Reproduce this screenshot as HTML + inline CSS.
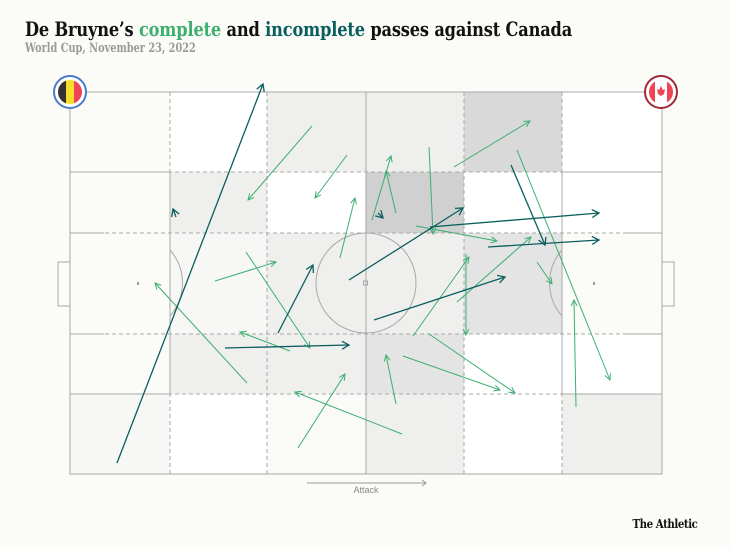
<!DOCTYPE html>
<html><head><meta charset="utf-8"><style>
body{margin:0;background:#fbfbf8;width:730px;height:548px;overflow:hidden;position:relative;font-family:"Liberation Serif",serif}
.t{position:absolute;left:25px;top:17px;font-size:20px;font-weight:bold;color:#111;letter-spacing:-0.2px;font-family:"DejaVu Serif","Liberation Serif",serif;transform:scaleX(0.81);transform-origin:left;white-space:nowrap}
.s{position:absolute;left:25px;top:41px;font-size:13px;font-weight:bold;color:#999;font-family:"DejaVu Serif",serif;transform:scaleX(0.75);transform-origin:left;white-space:nowrap}
.b{position:absolute;right:33px;top:517px;font-size:12px;font-weight:bold;color:#111;font-family:"DejaVu Serif",serif;letter-spacing:-0.5px;transform:scaleX(0.85);transform-origin:right}
</style></head><body>
<div class="t">De Bruyne’s <span style="color:#3daf6f">complete</span> and <span style="color:#0b5e5e">incomplete</span> passes against Canada</div>
<div class="s">World Cup, November 23, 2022</div>
<svg width="730" height="548" style="position:absolute;left:0;top:0">
<defs>
<marker id="g" markerWidth="8" markerHeight="8" refX="7" refY="4" orient="auto" markerUnits="userSpaceOnUse"><path d="M1,1 L7,4 L1,7" fill="none" stroke="#3daf6f" stroke-width="1"/></marker>
<marker id="d" markerWidth="10" markerHeight="10" refX="8" refY="5" orient="auto" markerUnits="userSpaceOnUse"><path d="M1,1 L8,5 L1,9" fill="none" stroke="#0b5e5e" stroke-width="1.3"/></marker>
</defs>
<rect x="70" y="92" width="592" height="382" fill="#fbfbf8"/>
<g>
<rect x="267" y="92" width="99" height="80" fill="#efefed"/>
<rect x="366" y="92" width="98" height="80" fill="#efefed"/>
<rect x="464" y="92" width="98" height="80" fill="#d9d9d9"/>
<rect x="170" y="92" width="97" height="80" fill="#fff"/>
<rect x="562" y="92" width="100" height="80" fill="#fff"/>
<rect x="170" y="172" width="97" height="61" fill="#efefed"/>
<rect x="267" y="172" width="99" height="61" fill="#fff"/>
<rect x="366" y="172" width="98" height="61" fill="#d0d0d0"/>
<rect x="464" y="172" width="98" height="61" fill="#fff"/>
<rect x="562" y="172" width="100" height="61" fill="#fff"/>
<rect x="170" y="233" width="97" height="101" fill="#f7f7f5"/>
<rect x="267" y="233" width="99" height="101" fill="#efefed"/>
<rect x="366" y="233" width="98" height="101" fill="#efefed"/>
<rect x="464" y="233" width="98" height="101" fill="#e4e4e4"/>
<rect x="170" y="334" width="97" height="60" fill="#efefed"/>
<rect x="267" y="334" width="99" height="60" fill="#efefed"/>
<rect x="366" y="334" width="98" height="60" fill="#e4e4e4"/>
<rect x="464" y="334" width="98" height="60" fill="#fff"/>
<rect x="562" y="334" width="100" height="60" fill="#fff"/>
<rect x="70" y="394" width="100" height="80" fill="#f7f7f5"/>
<rect x="170" y="394" width="97" height="80" fill="#fff"/>
<rect x="267" y="394" width="99" height="80" fill="#fafaf8"/>
<rect x="366" y="394" width="98" height="80" fill="#efefed"/>
<rect x="464" y="394" width="98" height="80" fill="#fff"/>
<rect x="562" y="394" width="100" height="80" fill="#efefed"/>
</g>
<g stroke="#aaa" stroke-width="1" fill="none" stroke-dasharray="4,3">
<line x1="170" y1="92" x2="170" y2="474"/><line x1="267" y1="92" x2="267" y2="474"/><line x1="464" y1="92" x2="464" y2="474"/><line x1="562" y1="92" x2="562" y2="474"/>
<line x1="70" y1="172" x2="662" y2="172"/><line x1="70" y1="233" x2="662" y2="233"/><line x1="70" y1="334" x2="662" y2="334"/><line x1="70" y1="394" x2="662" y2="394"/>
</g>
<g stroke="#a8a8a8" stroke-width="1" fill="none">
<rect x="70" y="92" width="592" height="382"/>
<line x1="366" y1="92" x2="366" y2="474"/>
<circle cx="366" cy="283" r="50"/>
<rect x="363.5" y="281" width="4" height="4"/>
<path d="M170,172 H70 V394 H170 Z"/><path d="M104,233 H70 V334 H104"/><path d="M70,262 H58 V306 H70"/>
<path d="M562,172 H662 V394 H562 Z"/><path d="M627,233 H662 V334 H627"/><path d="M662,262 H674 V306 H662"/>
<path d="M170,250 A50 50 0 0 1 170,316"/><path d="M562,250 A50 50 0 0 0 562,316"/>
</g>
<rect x="137" y="282" width="2" height="3" fill="#999"/><rect x="593" y="282" width="2" height="3" fill="#999"/>
<g stroke="#3daf6f" stroke-width="1" fill="none" marker-end="url(#g)">
<line x1="312" y1="126" x2="248" y2="200"/><line x1="347" y1="155" x2="315" y2="198"/>
<line x1="215" y1="281" x2="276" y2="262"/><line x1="247" y1="383" x2="155" y2="283"/>
<line x1="246" y1="252" x2="310" y2="348"/><line x1="290" y1="351" x2="240" y2="332"/>
<line x1="340" y1="258" x2="355" y2="198"/><line x1="372" y1="220" x2="391" y2="156"/>
<line x1="396" y1="213" x2="386" y2="171"/><line x1="429" y1="147" x2="433" y2="234"/>
<line x1="416" y1="226" x2="497" y2="241"/><line x1="454" y1="167" x2="530" y2="121"/>
<line x1="517" y1="150" x2="610" y2="380"/><line x1="537" y1="262" x2="552" y2="284"/>
<line x1="576" y1="407" x2="574" y2="300"/><line x1="466" y1="254" x2="466" y2="335"/>
<line x1="457" y1="302" x2="531" y2="237"/><line x1="413" y1="336" x2="469" y2="257"/>
<line x1="429" y1="334" x2="515" y2="393"/><line x1="403" y1="356" x2="500" y2="390"/>
<line x1="396" y1="404" x2="386" y2="355"/><line x1="402" y1="434" x2="295" y2="392"/>
<line x1="298" y1="448" x2="345" y2="374"/>
</g>
<g stroke="#0b5e5e" stroke-width="1.3" fill="none" marker-end="url(#d)">
<line x1="117" y1="463" x2="263" y2="84"/><line x1="176" y1="217" x2="173" y2="209"/>
<line x1="278" y1="333" x2="313" y2="265"/><line x1="225" y1="348" x2="349" y2="345"/>
<line x1="349" y1="280" x2="463" y2="208"/><line x1="430" y1="227" x2="599" y2="213"/>
<line x1="374" y1="320" x2="505" y2="277"/><line x1="488" y1="247" x2="599" y2="240"/>
<line x1="511" y1="165" x2="545" y2="245"/><line x1="378" y1="213" x2="383" y2="218"/>
</g>
<circle cx="70" cy="92" r="16" fill="#fff" stroke="#4a7cc9" stroke-width="2"/>
<clipPath id="bc"><circle cx="70" cy="92" r="12"/></clipPath>
<g clip-path="url(#bc)"><rect x="58" y="80" width="8" height="24" fill="#333"/><rect x="66" y="80" width="8" height="24" fill="#f7de2b"/><rect x="74" y="80" width="8" height="24" fill="#ef4455"/></g>
<circle cx="661" cy="92" r="16" fill="#fff" stroke="#a3283a" stroke-width="2"/>
<clipPath id="cc"><circle cx="661" cy="92" r="12"/></clipPath>
<g clip-path="url(#cc)"><rect x="649" y="80" width="6" height="24" fill="#ef4455"/><rect x="667" y="80" width="6" height="24" fill="#ef4455"/><path d="M661,86 L663,90 L665,89 L664,94 L661,96 L658,94 L657,89 L659,90 Z" fill="#ef4455"/></g>
<line x1="307" y1="483" x2="426" y2="483" stroke="#999" stroke-width="1"/><path d="M422,480 L426,483 L422,486" fill="none" stroke="#999"/>
<text x="366" y="493" font-family="Liberation Sans,sans-serif" font-size="9" fill="#888" text-anchor="middle">Attack</text>
</svg>
<div class="b">The Athletic</div>
</body></html>
